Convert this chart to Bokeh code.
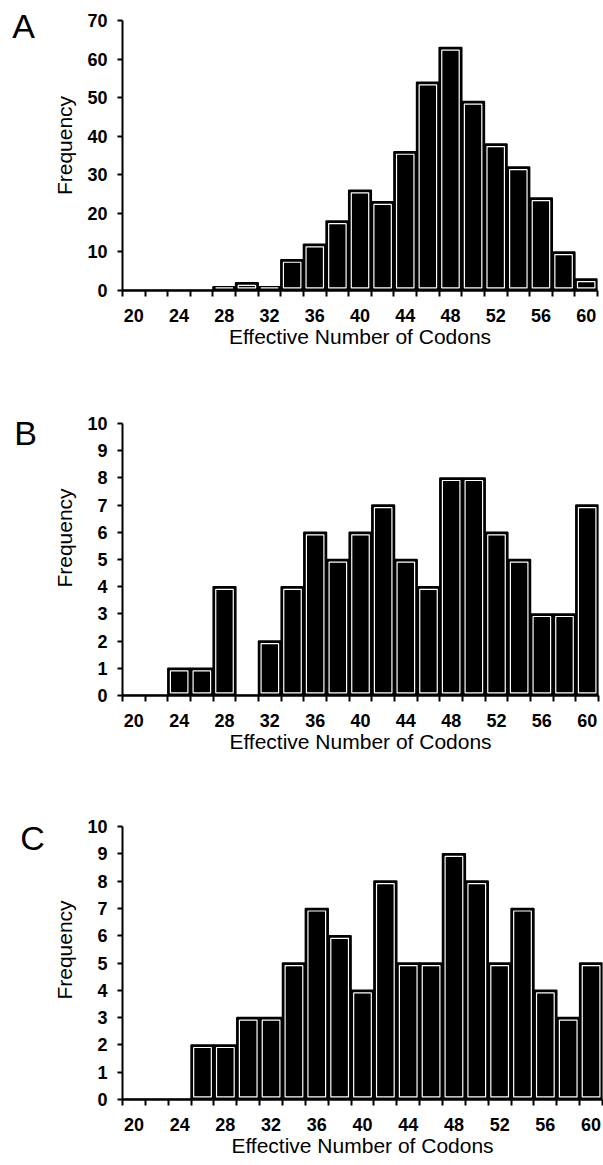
from bokeh.plotting import figure
from bokeh.layouts import column, row
from bokeh.models import Range1d, FixedTicker, ColumnDataSource
from bokeh.core.properties import value
from bokeh.embed import file_html
from bokeh.resources import INLINE

# Effective number of codons (bin centres, width 2)
enc_bins = [20, 22, 24, 26, 28, 30, 32, 34, 36, 38, 40,
            42, 44, 46, 48, 50, 52, 54, 56, 58, 60]
tick_labels = [20, 24, 28, 32, 36, 40, 44, 48, 52, 56, 60]

# Gene counts per ENC bin for the three gene sets
freq_a = [0, 0, 0, 0, 1, 2, 1, 8, 12, 18, 26, 23, 36, 54, 63, 49, 38, 32, 24, 10, 3]
freq_b = [0, 0, 1, 1, 4, 0, 2, 4, 6, 5, 6, 7, 5, 4, 8, 8, 6, 5, 3, 3, 7]
freq_c = [0, 0, 0, 2, 2, 3, 3, 5, 7, 6, 4, 8, 5, 5, 9, 8, 5, 7, 4, 3, 5]

panel_letters = ["A", "B", "C"]

FONT = "Liberation Sans"
BIN_W = 2
TOTAL_W = 603
LETTER_W = 50


def letter_box(letter, height, border_bottom, cx, cy):
    """Narrow strip carrying the panel letter (y range in frame pixels)."""
    frame_h = height - border_bottom
    f = figure(width=LETTER_W, height=height, output_backend="svg",
               toolbar_location=None, x_axis_type=None, y_axis_type=None,
               x_range=Range1d(0, LETTER_W), y_range=Range1d(0, frame_h),
               min_border=0, min_border_bottom=border_bottom)
    f.outline_line_color = None
    f.xgrid.visible = False
    f.ygrid.visible = False
    f.text(x=[cx], y=[frame_h - cy], text=[letter],
           text_align="center", text_baseline="middle",
           text_font=value(FONT), text_font_size="34px", text_color="black")
    return f


def histogram(freqs, ymax, ystep, height, axis_top, border_bottom,
              frame_left, border_right):
    """axis_top: pixel row of the top of the y axis (value ymax)."""
    x0 = enc_bins[0] - BIN_W / 2
    x1 = enc_bins[-1] + BIN_W / 2
    width = TOTAL_W - LETTER_W
    border_left = frame_left - LETTER_W
    frame_w = width - border_left - border_right
    frame_h = height - border_bottom
    # frame reaches the top of the canvas; the axis itself stops at ymax
    y_top = ymax * frame_h / (frame_h - axis_top)
    p = figure(width=width, height=height, output_backend="svg",
               toolbar_location=None,
               x_range=Range1d(x0, x1), y_range=Range1d(0, y_top),
               min_border_top=0, min_border_bottom=border_bottom,
               min_border_left=border_left, min_border_right=border_right)
    p.outline_line_color = None
    p.xgrid.visible = False
    p.ygrid.visible = False

    # pixel -> data conversions for the white inner rim of each bar
    dx = 2.6 * (x1 - x0) / frame_w
    dy = 2.6 * y_top / frame_h

    src = ColumnDataSource(dict(x=enc_bins, top=freqs))
    p.vbar(x="x", top="top", bottom=0, width=BIN_W, source=src,
           fill_color="black", line_color="black", line_width=1.5)

    nz = [(b, f) for b, f in zip(enc_bins, freqs) if f > 0]
    rim = ColumnDataSource(dict(
        left=[b - BIN_W / 2 + dx for b, f in nz],
        right=[b + BIN_W / 2 - dx for b, f in nz],
        bottom=[dy for b, f in nz],
        top=[max(f - dy, dy) for b, f in nz],
    ))
    p.quad(left="left", right="right", bottom="bottom", top="top", source=rim,
           fill_color=None, line_color="white", line_width=1.2)

    # x axis: ticks on bin edges, labels every other bin
    edges = [b - BIN_W / 2 for b in enc_bins] + [x1]
    xa = p.xaxis[0]
    xa.ticker = FixedTicker(ticks=tick_labels, minor_ticks=edges)
    xa.major_tick_out = 0
    xa.major_tick_in = 0
    xa.minor_tick_out = 6
    xa.minor_tick_in = 0
    xa.minor_tick_line_width = 2
    xa.minor_tick_line_color = "black"
    xa.axis_line_width = 2.5
    xa.axis_line_color = "black"
    xa.major_label_standoff = 12
    xa.major_label_text_font = FONT
    xa.major_label_text_font_size = "18px"
    xa.major_label_text_font_style = "bold"
    xa.major_label_text_color = "black"
    xa.axis_label = "Effective Number of Codons"
    xa.axis_label_text_font = FONT
    xa.axis_label_text_font_size = "21px"
    xa.axis_label_text_font_style = "normal"
    xa.axis_label_text_color = "black"
    xa.axis_label_standoff = 0

    ya = p.yaxis[0]
    ya.bounds = (0, ymax)
    ya.ticker = FixedTicker(ticks=list(range(0, ymax + 1, ystep)))
    ya.major_tick_out = 5
    ya.major_tick_in = 0
    ya.major_tick_line_width = 2
    ya.minor_tick_out = 0
    ya.minor_tick_in = 0
    ya.axis_line_width = 2
    ya.axis_line_color = "black"
    ya.major_label_standoff = 10
    ya.major_label_text_font = FONT
    ya.major_label_text_font_size = "18px"
    ya.major_label_text_font_style = "bold"
    ya.major_label_text_color = "black"
    ya.axis_label = "Frequency"
    ya.axis_label_text_font = FONT
    ya.axis_label_text_font_size = "21px"
    ya.axis_label_text_font_style = "normal"
    ya.axis_label_text_color = "black"
    ya.axis_label_standoff = 8
    return p


panels = [
    # freqs, ymax, step, height, axis top, bottom, frame_left, right, letter centre
    (freq_a, 70, 10, 380, 20, 90, 121, 6, (23, 25)),
    (freq_b, 10, 1, 420, 43, 105, 118, 5, (25, 52)),
    (freq_c, 10, 1, 365, 26, 66, 122, 1, (32, 37)),
]

rows = []
for letter, (fr, ymax, step, h, at, bb, fl, br, (cx, cy)) in zip(panel_letters, panels):
    hist = histogram(fr, ymax, step, height=h, axis_top=at, border_bottom=bb,
                     frame_left=fl, border_right=br)
    lab = letter_box(letter, h, bb, cx, cy)
    rows.append(row(lab, hist, spacing=0))

layout = column(*rows, spacing=0)

open("out.html", "w").write(file_html(layout, INLINE))
